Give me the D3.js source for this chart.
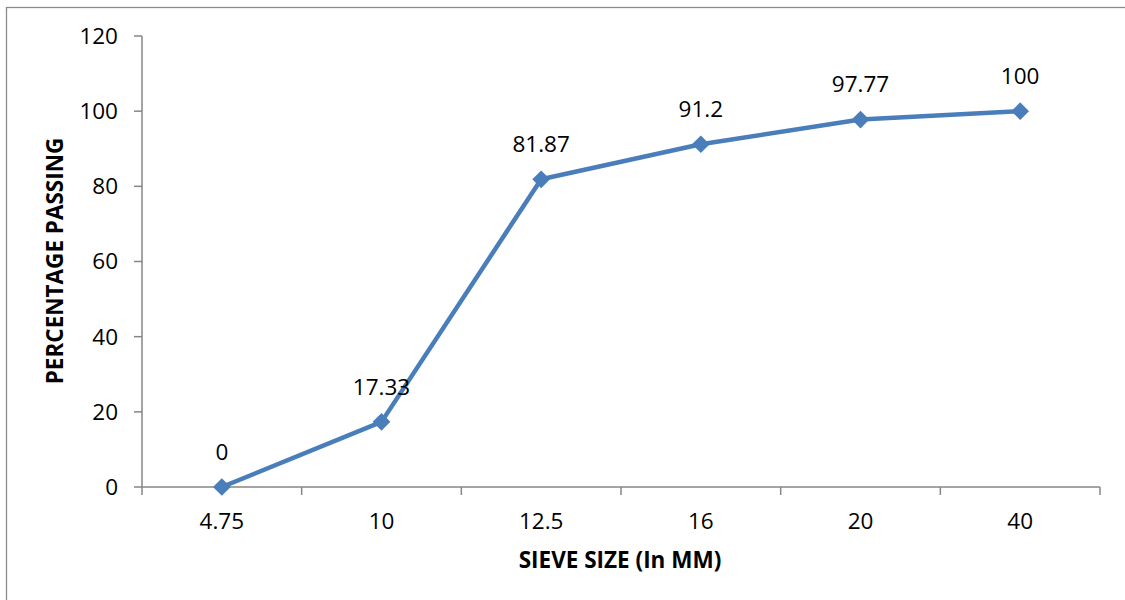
<!DOCTYPE html>
<html>
<head>
<meta charset="utf-8">
<script src="https://cdn.jsdelivr.net/npm/d3@7"></script>
<style>
  html, body { margin: 0; padding: 0; background: #fff; }
  svg { display: block; font-family: "Open Sans", "Liberation Sans", sans-serif; }
</style>
</head>
<body>
<svg id="chart" width="1125" height="600"></svg>
<script>
// Sieve analysis: cumulative percentage passing per sieve size
const sieveSizes = ["4.75", "10", "12.5", "16", "20", "40"];
const percentPassing = [0, 17.33, 81.87, 91.2, 97.77, 100];
const yTicks = [0, 20, 40, 60, 80, 100, 120];

const svg = d3.select("#chart");
const plot = { left: 142, right: 1100, top: 36, bottom: 487 };
const lineColor = "#4a7ebb";
const axisColor = "#868686";
const labelSize = 22.5;
const titleSize = 22.5;

// outer chart frame
svg.append("rect")
  .attr("x", 6.5).attr("y", 7.5)
  .attr("width", 1140).attr("height", 620)
  .attr("fill", "none").attr("stroke", "#8c8c8c").attr("stroke-width", 1.3);

const x = d3.scaleBand().domain(sieveSizes).range([plot.left, plot.right]);
const y = d3.scaleLinear().domain([0, 120]).range([plot.bottom, plot.top]);

// y axis
const gy = svg.append("g");
gy.append("line")
  .attr("x1", plot.left).attr("x2", plot.left)
  .attr("y1", y(120)).attr("y2", y(0))
  .attr("stroke", axisColor).attr("stroke-width", 1.5);
gy.selectAll("line.tick").data(yTicks).join("line")
  .attr("class", "tick")
  .attr("x1", plot.left - 8).attr("x2", plot.left)
  .attr("y1", d => y(d)).attr("y2", d => y(d))
  .attr("stroke", axisColor).attr("stroke-width", 1.5);
gy.selectAll("text").data(yTicks).join("text")
  .attr("x", plot.left - 24).attr("y", d => y(d))
  .attr("dy", "0.35em").attr("text-anchor", "end")
  .attr("font-size", labelSize).attr("fill", "#000")
  .text(d => d);

// x axis
const gx = svg.append("g");
gx.append("line")
  .attr("x1", plot.left).attr("x2", plot.right)
  .attr("y1", y(0)).attr("y2", y(0))
  .attr("stroke", axisColor).attr("stroke-width", 1.5);
const boundaries = sieveSizes.map(s => x(s)).concat([x(sieveSizes[sieveSizes.length - 1]) + x.bandwidth()]);
gx.selectAll("line.tick").data(boundaries).join("line")
  .attr("class", "tick")
  .attr("x1", d => d).attr("x2", d => d)
  .attr("y1", y(0)).attr("y2", y(0) + 8)
  .attr("stroke", axisColor).attr("stroke-width", 1.5);
gx.selectAll("text").data(sieveSizes).join("text")
  .attr("x", d => x(d) + x.bandwidth() / 2).attr("y", y(0) + 34)
  .attr("dy", "0.35em").attr("text-anchor", "middle")
  .attr("font-size", labelSize).attr("fill", "#000")
  .text(d => d);

// axis titles
svg.append("text")
  .attr("x", 620).attr("y", 560).attr("dy", "0.35em")
  .attr("text-anchor", "middle").attr("font-size", titleSize).attr("font-weight", "bold")
  .text("SIEVE SIZE (In MM)");
svg.append("text")
  .attr("transform", "translate(55,261) rotate(-90)")
  .attr("dy", "0.35em")
  .attr("text-anchor", "middle").attr("font-size", titleSize).attr("font-weight", "bold")
  .text("PERCENTAGE PASSING");

const pts = sieveSizes.map((s, i) => ({ s, v: percentPassing[i] }));
const cx = d => x(d.s) + x.bandwidth() / 2;

// series line
svg.append("path")
  .datum(pts)
  .attr("fill", "none").attr("stroke", lineColor)
  .attr("stroke-width", 4.5).attr("stroke-linejoin", "round")
  .attr("d", d3.line().x(cx).y(d => y(d.v)));

// diamond markers
svg.selectAll("path.marker").data(pts).join("path")
  .attr("class", "marker")
  .attr("transform", d => `translate(${cx(d)},${y(d.v)})`)
  .attr("d", d3.symbol().type(d3.symbolDiamond2).size(200))
  .attr("fill", lineColor);

// data labels
svg.selectAll("text.label").data(pts).join("text")
  .attr("class", "label")
  .attr("x", cx).attr("y", d => y(d.v) - 35)
  .attr("dy", "0.35em").attr("text-anchor", "middle")
  .attr("font-size", labelSize).attr("fill", "#000")
  .text(d => d.v);
</script>
</body>
</html>
